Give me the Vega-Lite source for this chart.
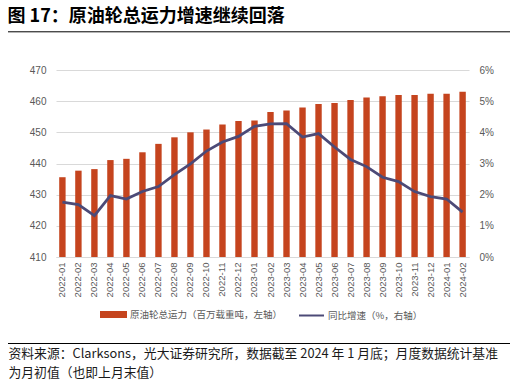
{
  "$schema": "https://vega.github.io/schema/vega-lite/v6.json",
  "width": 413,
  "height": 187,
  "padding": {"left": 7, "top": 8, "right": 7, "bottom": 2},
  "title": {
    "text": "图 17：原油轮总运力增速继续回落",
    "anchor": "start",
    "frame": "bounds",
    "fontSize": 18,
    "fontWeight": "bold",
    "font": "Noto Sans CJK SC",
    "color": "#000000",
    "offset": 5
  },
  "config": {"view": {"stroke": null}, "font": "Liberation Sans"},
  "data": {
    "values": [
      {"month": "2022-01", "cap": 435.6, "yoy": 1.76},
      {"month": "2022-02", "cap": 437.7, "yoy": 1.68},
      {"month": "2022-03", "cap": 438.2, "yoy": 1.33},
      {"month": "2022-04", "cap": 441.1, "yoy": 1.97},
      {"month": "2022-05", "cap": 441.5, "yoy": 1.86},
      {"month": "2022-06", "cap": 443.6, "yoy": 2.10},
      {"month": "2022-07", "cap": 446.3, "yoy": 2.26},
      {"month": "2022-08", "cap": 448.4, "yoy": 2.64},
      {"month": "2022-09", "cap": 450.0, "yoy": 2.99},
      {"month": "2022-10", "cap": 450.9, "yoy": 3.40},
      {"month": "2022-11", "cap": 452.5, "yoy": 3.69},
      {"month": "2022-12", "cap": 453.6, "yoy": 3.87},
      {"month": "2023-01", "cap": 453.8, "yoy": 4.19},
      {"month": "2023-02", "cap": 456.5, "yoy": 4.27},
      {"month": "2023-03", "cap": 457.0, "yoy": 4.28},
      {"month": "2023-04", "cap": 458.0, "yoy": 3.85},
      {"month": "2023-05", "cap": 459.1, "yoy": 3.96},
      {"month": "2023-06", "cap": 459.4, "yoy": 3.53},
      {"month": "2023-07", "cap": 460.4, "yoy": 3.13},
      {"month": "2023-08", "cap": 461.2, "yoy": 2.90},
      {"month": "2023-09", "cap": 461.6, "yoy": 2.56},
      {"month": "2023-10", "cap": 462.0, "yoy": 2.42},
      {"month": "2023-11", "cap": 462.0, "yoy": 2.10},
      {"month": "2023-12", "cap": 462.4, "yoy": 1.94},
      {"month": "2024-01", "cap": 462.4, "yoy": 1.86},
      {"month": "2024-02", "cap": 463.0, "yoy": 1.44}
    ]
  },
  "layer": [
    {
      "layer": [
        {
          "mark": {"type": "bar"},
          "encoding": {
            "x": {
              "field": "month",
              "type": "ordinal",
              "scale": {"paddingInner": 0.6, "paddingOuter": 0.2},
              "axis": {
                "title": ["资料来源：Clarksons，光大证券研究所，数据截至 2024 年 1 月底；月度数据统计基准", "为月初值（也即上月末值）"],
                "titleX": -48,
                "titleY": 90,
                "titleAnchor": "start",
                "titleAlign": "left",
                "titleBaseline": "top",
                "titleFontSize": 12.8,
                "titleFontWeight": "normal",
                "titleFont": "Noto Sans CJK SC",
                "titleColor": "#1a1a1a",
                "titleLineHeight": 19.5,
                "labelAngle": -90,
                "labelFontSize": 9.5,
                "labelColor": "#595959",
                "labelPadding": 5,
                "ticks": false,
                "domainColor": "#d9d9d9"
              }
            },
            "y": {
              "field": "cap",
              "type": "quantitative",
              "scale": {"domain": [410, 470], "zero": false, "nice": false},
              "axis": {
                "values": [410, 420, 430, 440, 450, 460, 470],
                "grid": true,
                "gridColor": "#d9d9d9",
                "domain": false,
                "ticks": false,
                "labelPadding": 10,
                "labelColor": "#595959",
                "labelFontSize": 10,
                "title": null
              }
            },
            "y2": {"datum": 410},
            "color": {
              "datum": "原油轮总运力（百万载重吨，左轴）",
              "type": "nominal",
              "scale": {
                "domain": ["原油轮总运力（百万载重吨，左轴）", "同比增速（%，右轴）"],
                "range": ["#C5441E", "#4C4A77"]
              },
              "legend": {
                "orient": "none",
                "legendX": 44,
                "legendY": 231,
                "direction": "horizontal",
                "columns": 2,
                "columnPadding": 12,
                "labelFontSize": 9.5,
                "labelColor": "#595959",
                "labelFont": "Noto Sans CJK SC",
                "labelOffset": 3,
                "labelLimit": 300,
                "symbolSize": 625,
                "title": null,
                "padding": 0,
                "encode": {
                  "symbols": {
                    "update": {
                      "shape": {"signal": "datum.value === '同比增速（%，右轴）' ? 'stroke' : 'M-1,-0.2H1V0.2H-1Z'"},
                      "fill": {"signal": "datum.value === '同比增速（%，右轴）' ? 'transparent' : '#C5441E'"},
                      "stroke": {"signal": "datum.value === '同比增速（%，右轴）' ? '#4C4A77' : 'transparent'"},
                      "strokeWidth": {"value": 2},
                      "opacity": {"value": 1}
                    }
                  }
                }
              }
            }
          }
        },
        {
          "mark": {"type": "line", "strokeWidth": 2.75},
          "encoding": {
            "x": {"field": "month", "type": "ordinal"},
            "y": {
              "field": "yoy",
              "type": "quantitative",
              "scale": {"domain": [0, 6], "nice": false},
              "axis": {
                "orient": "right",
                "values": [0, 1, 2, 3, 4, 5, 6],
                "labelExpr": "datum.value + '%'",
                "grid": false,
                "domain": false,
                "ticks": false,
                "labelPadding": 10,
                "labelColor": "#595959",
                "labelFontSize": 10,
                "title": null
              }
            },
            "color": {"datum": "同比增速（%，右轴）", "type": "nominal"}
          }
        }
      ],
      "resolve": {"scale": {"y": "independent"}}
    },
    {
      "data": {"values": [{"line": "header", "a": 0, "b": 1}, {"line": "footer", "a": 0, "b": 1}]},
      "mark": {"type": "rule", "stroke": "#000000", "strokeWidth": 1, "opacity": 1},
      "encoding": {
        "x": {"field": "a", "type": "quantitative", "scale": {"domain": [0, 1], "range": [-48, 454], "zero": false, "nice": false}, "axis": null},
        "x2": {"field": "b"},
        "y": {
          "field": "line",
          "type": "ordinal",
          "scale": {"type": "point", "domain": ["header", "footer"], "range": [-38.2, 273.5], "padding": 0},
          "axis": null
        }
      }
    }
  ],
  "resolve": {"scale": {"x": "independent", "y": "independent"}}
}
